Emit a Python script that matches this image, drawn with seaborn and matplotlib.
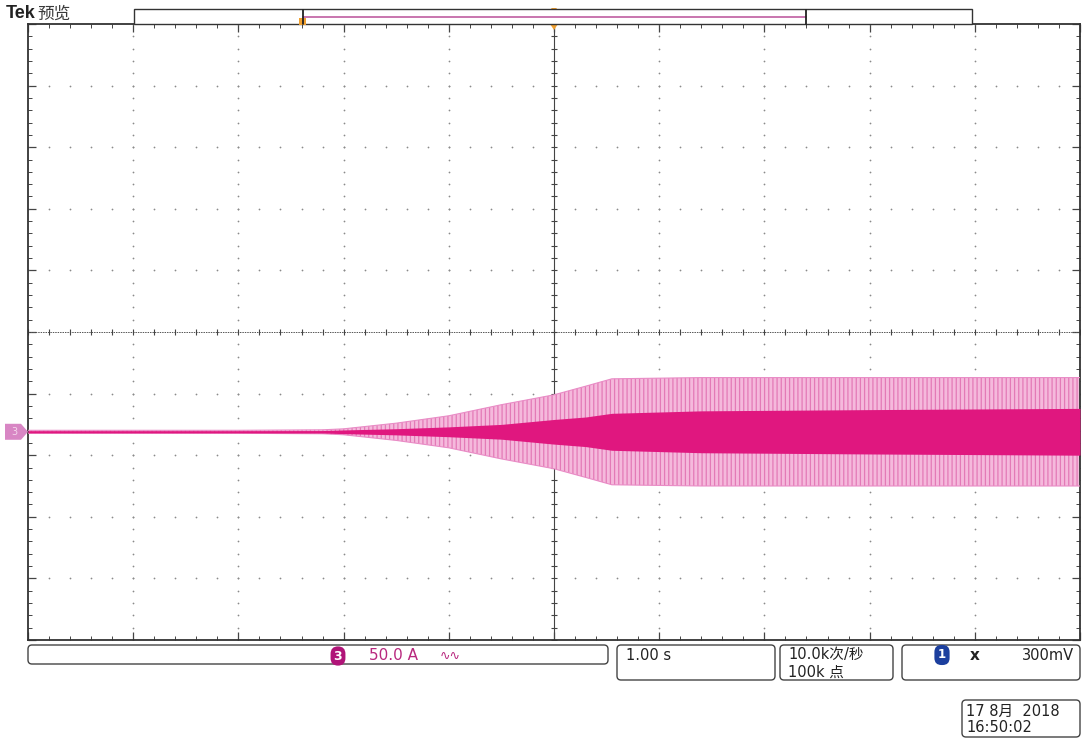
import numpy as np
import pandas as pd
import matplotlib
matplotlib.use("Agg")
import matplotlib.pyplot as plt
import seaborn as sns
from matplotlib.patches import FancyBboxPatch, Polygon, Rectangle
from matplotlib.ticker import MultipleLocator

time_s = [-5.0, -3.0, -2.2, -2.0, -1.5, -1.0, -0.5, 0.0, 0.3, 0.55, 1.4, 3.0, 5.0]
outer_amp_A = [1.2, 1.2, 1.6, 2.4, 7.0, 13.0, 22.0, 30.0, 37.0, 43.0, 44.0, 44.0, 44.0]
inner_amp_A = [0.9, 0.9, 1.0, 1.5, 2.5, 4.0, 6.0, 10.0, 12.0, 15.0, 17.0, 18.0, 19.0]

amps_per_div = 50.0
sec_per_div = 1.0
h_divs = 10
v_divs = 10
ch3_position_div = -1.62

status_title = "Tek"
status_mode = "预览"
ch3_label = "3"
ch3_scale = "50.0 A"
ch3_bw = "∿∿"
timebase = "1.00 s"
sample_rate = "10.0k次/秒"
record_len = "100k 点"
trig_src = "1"
trig_slope = "x"
trig_level = "300mV"
date_line = "17 8月  2018"
time_line = "16:50:02"

# ---------------- style ----------------
sns.set_style("white")
plt.rcParams['font.family'] = ['DejaVu Sans', 'Noto Sans CJK SC']
plt.rcParams['hatch.linewidth'] = 0.9

W, H = 1083, 741
fig = plt.figure(figsize=(W / 100, H / 100), dpi=100)
L, R, T, B = 28, 1080, 24, 640
ax = fig.add_axes([L / W, 1 - B / H, (R - L) / W, (B - T) / H])
xmax = h_divs / 2 * sec_per_div
ymax = v_divs / 2 * amps_per_div
ax.set_xlim(-xmax, xmax)
ax.set_ylim(-ymax, ymax)

offset = ch3_position_div * amps_per_div
df = pd.DataFrame({"t": time_s, "outer": outer_amp_A, "inner": inner_amp_A})
df["up_o"] = offset + df["outer"]
df["lo_o"] = offset - df["outer"]
df["up_i"] = offset + df["inner"]
df["lo_i"] = offset - df["inner"]

# graticule dots
grid_col = '#8a8a8a'
xs_minor = np.arange(-xmax, xmax + 1e-9, sec_per_div / 5)
ys_minor = np.arange(-ymax, ymax + 1e-9, amps_per_div / 5)
for xi in np.arange(-xmax + sec_per_div, xmax - 1e-9, sec_per_div):
    if abs(xi) < 1e-9:
        continue
    ax.scatter(np.full(len(ys_minor), xi), ys_minor, s=1.6, color=grid_col, lw=0, zorder=1)
for yi in np.arange(-ymax + amps_per_div, ymax - 1e-9, amps_per_div):
    if abs(yi) < 1e-9:
        continue
    ax.scatter(xs_minor, np.full(len(xs_minor), yi), s=1.6, color=grid_col, lw=0, zorder=1)

# center crosshair with ticks
ax.axhline(0, color='#555555', lw=0.7, ls=(0, (1.5, 1)), zorder=1)
ax.axvline(0, color='#444444', lw=0.8, zorder=1)
ax.plot(xs_minor, np.zeros_like(xs_minor), ls='none', marker='|', ms=4, color='#444444', mew=0.8, zorder=1)
ax.plot(np.zeros_like(ys_minor), ys_minor, ls='none', marker='_', ms=4, color='#444444', mew=0.8, zorder=1)

# waveform envelope
ax.fill_between(df["t"], df["lo_o"], df["up_o"], facecolor='#f5b9dc', edgecolor='#e37ab7',
                hatch='||||', linewidth=0, zorder=2)
sns.lineplot(data=df, x="t", y="up_o", color='#e98cc6', lw=0.8, ax=ax, zorder=3)
sns.lineplot(data=df, x="t", y="lo_o", color='#e98cc6', lw=0.8, ax=ax, zorder=3)
ax.fill_between(df["t"], df["lo_i"], df["up_i"], color='#e0177f', linewidth=0, zorder=4)

# frame ticks
ax.xaxis.set_major_locator(MultipleLocator(sec_per_div))
ax.xaxis.set_minor_locator(MultipleLocator(sec_per_div / 5))
ax.yaxis.set_major_locator(MultipleLocator(amps_per_div))
ax.yaxis.set_minor_locator(MultipleLocator(amps_per_div / 5))
ax.tick_params(which='both', direction='in', top=True, right=True, bottom=True, left=True,
               labelbottom=False, labelleft=False, color='#444444')
ax.tick_params(which='major', length=6, width=0.9)
ax.tick_params(which='minor', length=3, width=0.7)
ax.set_xlabel("")
ax.set_ylabel("")
for s in ax.spines.values():
    s.set_color('#333333')
    s.set_linewidth(1.3)

# ---------------- overlay (pixel coordinates) ----------------
ov = fig.add_axes([0, 0, 1, 1], zorder=5)
ov.set_xlim(0, W)
ov.set_ylim(H, 0)
ov.axis('off')
ov.patch.set_alpha(0)

# channel marker on left
y_mark = H - ax.transData.transform((0, offset))[1]
ov.add_patch(Polygon([(5, y_mark - 8), (21, y_mark - 8), (28, y_mark), (21, y_mark + 8), (5, y_mark + 8)],
                     closed=True, fc='#d886c4', ec='none'))
ov.text(14, y_mark, ch3_label, color='#f4d8ec', fontsize=7, ha='center', va='center')

# trigger position (x of t = 0)
x_trig = ax.transData.transform((0, 0))[0]
ov.add_patch(Polygon([(x_trig - 4, 24), (x_trig + 4, 24), (x_trig, 30)], closed=True, fc='#f0a030', ec='none'))
ov.add_patch(Polygon([(x_trig - 3, 8), (x_trig + 3, 8), (x_trig, 12)], closed=True, fc='#f0a030', ec='none'))

# record view bar
ov.add_patch(Rectangle((134, 9), 838, 15, fc='white', ec='#333333', lw=1.0))
ov.plot([303, 806], [17, 17], color='#c46aa8', lw=1.3)
ov.plot([303, 303], [10, 24], color='#222222', lw=1.3)
ov.plot([806, 806], [10, 24], color='#222222', lw=1.3)
ov.add_patch(Polygon([(299, 18), (306, 18), (306, 25), (299, 25)], closed=True, fc='#f0a030', ec='none'))

# status text
ov.text(6, 14, status_title, fontsize=13, fontweight='bold', family=['Liberation Sans', 'DejaVu Sans'],
        color='#222222', va='center', ha='left')
ov.text(37, 14, status_mode, fontsize=12, family=['Noto Sans CJK SC', 'DejaVu Sans'],
        color='#3a3a3a', va='center', ha='left')

def rbox(x0, y0, x1, y1):
    ov.add_patch(FancyBboxPatch((x0 + 4, y0 + 4), x1 - x0 - 8, y1 - y0 - 8,
                                boxstyle='round,pad=4', fc='white', ec='#444444', lw=1.0))

rbox(28, 645, 608, 664)
rbox(617, 645, 775, 680)
rbox(780, 645, 893, 680)
rbox(902, 645, 1080, 680)
rbox(962, 700, 1080, 737)

cjk = ['DejaVu Sans', 'Noto Sans CJK SC']
ov.text(338, 656, ch3_label, fontsize=9, fontweight='bold', color='white', ha='center', va='center',
        bbox=dict(boxstyle='round,pad=0.25,rounding_size=0.6', fc='#b01478', ec='none'))
ov.text(369, 656, ch3_scale, fontsize=11, color='#b8287e', ha='left', va='center', family=cjk)
ov.text(440, 656, ch3_bw, fontsize=9, color='#b8287e', ha='left', va='center', family=cjk)

ov.text(626, 655, timebase, fontsize=10.5, color='#222222', ha='left', va='center', family=cjk)
ov.text(788, 655, sample_rate, fontsize=10.5, color='#222222', ha='left', va='center', family=cjk)
ov.text(788, 672, record_len, fontsize=10.5, color='#222222', ha='left', va='center', family=cjk)

ov.text(942, 655, trig_src, fontsize=8.5, fontweight='bold', color='white', ha='center', va='center',
        bbox=dict(boxstyle='round,pad=0.3,rounding_size=0.6', fc='#1c3f9e', ec='none'))
ov.text(975, 655, trig_slope, fontsize=11, fontweight='bold', color='#222222', ha='center', va='center')
ov.text(1074, 655, trig_level, fontsize=10.5, color='#222222', ha='right', va='center', family=cjk)

ov.text(966, 711, date_line, fontsize=10.5, color='#222222', ha='left', va='center', family=cjk)
ov.text(966, 727, time_line, fontsize=10.5, color='#222222', ha='left', va='center', family=cjk)

fig.savefig("out.png", dpi=100, facecolor='white')
